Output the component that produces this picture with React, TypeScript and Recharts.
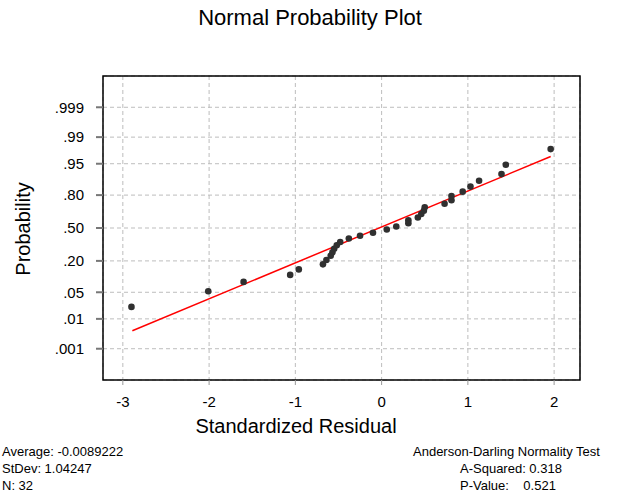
import {
  ScatterChart,
  Scatter,
  XAxis,
  YAxis,
  CartesianGrid,
  ReferenceArea,
} from "recharts";

// standardized residuals (sorted) and their normal scores
const residuals = [
  -2.9, -2.01, -1.6, -1.06, -0.96, -0.68, -0.64, -0.59, -0.57, -0.55, -0.52,
  -0.48, -0.38, -0.25, -0.1, 0.06, 0.17, 0.31, 0.31, 0.42, 0.46, 0.49, 0.5,
  0.73, 0.81, 0.81, 0.94, 1.03, 1.13, 1.39, 1.44, 1.96,
];
const normalScores = [
  -2.02, -1.62, -1.38, -1.2, -1.06, -0.93, -0.82, -0.71, -0.62, -0.53, -0.44,
  -0.36, -0.27, -0.2, -0.12, -0.04, 0.04, 0.12, 0.2, 0.27, 0.36, 0.44, 0.53,
  0.62, 0.71, 0.82, 0.93, 1.06, 1.21, 1.38, 1.62, 2.02,
];

// fitted line ends
const fitX = [-2.89, 1.96];
const fitZ = [-2.63, 1.83];

const probLabels = [".999", ".99", ".95", ".80", ".50", ".20", ".05", ".01", ".001"];
const probScores = [3.09, 2.326, 1.645, 0.842, 0, -0.842, -1.645, -2.326, -3.09];
const xTicks = [-3, -2, -1, 0, 1, 2];

const X_DOMAIN: [number, number] = [-3.23, 2.3];
const Y_DOMAIN: [number, number] = [-3.8906, 3.8906];

const points = residuals.map((x, i) => ({ x, z: normalScores[i] }));
const fitLine = fitX.map((x, i) => ({ x, z: fitZ[i] }));

const FONT = "'Liberation Sans', Arial, Helvetica, sans-serif";

function probLabel(v: number) {
  const i = probScores.findIndex((s) => Math.abs(s - v) < 1e-6);
  return i >= 0 ? probLabels[i] : "";
}

function Dot(props: any) {
  return <circle cx={props.cx} cy={props.cy} r={3.3} fill="#303030" />;
}

export default function App() {
  return (
    <div
      style={{
        position: "absolute",
        left: 0,
        top: 0,
        width: 618,
        height: 497,
        background: "#fff",
        fontFamily: FONT,
        overflow: "hidden",
      }}
    >
      <ScatterChart
        width={618}
        height={497}
        margin={{ top: 76, right: 38, bottom: 87, left: 0 }}
      >
        <CartesianGrid strokeDasharray="4 3" stroke="#bdbdbd" />
        <XAxis
          type="number"
          dataKey="x"
          domain={X_DOMAIN}
          ticks={xTicks}
          allowDataOverflow
          height={30}
          axisLine={false}
          tickLine={{ stroke: "#999" }}
          tickSize={5}
          tickMargin={11}
          tick={{ fill: "#000", fontSize: 15, fontFamily: FONT }}
        />
        <YAxis
          type="number"
          dataKey="z"
          domain={Y_DOMAIN}
          ticks={probScores}
          allowDataOverflow
          width={103}
          axisLine={false}
          tickLine={{ stroke: "#777", strokeWidth: 2 }}
          tickSize={7}
          tickMargin={12}
          tickFormatter={probLabel}
          tick={{ fill: "#000", fontSize: 15, fontFamily: FONT }}
        />
        <ReferenceArea
          x1={X_DOMAIN[0]}
          x2={X_DOMAIN[1]}
          y1={Y_DOMAIN[0]}
          y2={Y_DOMAIN[1]}
          fill="none"
          stroke="#000"
          strokeWidth={1.5}
          fillOpacity={0}
          ifOverflow="visible"
        />
        <Scatter
          data={fitLine}
          line={{ stroke: "#ff0000", strokeWidth: 1.5 }}
          shape={() => <g />}
          isAnimationActive={false}
        />
        <Scatter data={points} shape={Dot} isAnimationActive={false} />
      </ScatterChart>
      <svg
        width={618}
        height={497}
        style={{ position: "absolute", left: 0, top: 0, pointerEvents: "none" }}
        fontFamily={FONT}
      >
        <text x={310} y={25} fontSize={22} textAnchor="middle" fill="#000">
          Normal Probability Plot
        </text>
        <text x={296} y={433} fontSize={20} textAnchor="middle" fill="#000">
          Standardized Residual
        </text>
        <text
          transform="translate(30,229) rotate(-90)"
          fontSize={20}
          textAnchor="middle"
          fill="#000"
        >
          Probability
        </text>
        <g fontSize={13} fill="#000">
          <text x={2} y={455.5}>Average: -0.0089222</text>
          <text x={2} y={472.5}>StDev: 1.04247</text>
          <text x={2} y={489.5}>N: 32</text>
          <text x={413} y={455.5}>Anderson-Darling Normality Test</text>
          <text x={460} y={472.5}>A-Squared: 0.318</text>
          <text x={460} y={489.5} style={{ whiteSpace: "pre" }}>
            {"P-Value:    0.521"}
          </text>
        </g>
      </svg>
    </div>
  );
}
